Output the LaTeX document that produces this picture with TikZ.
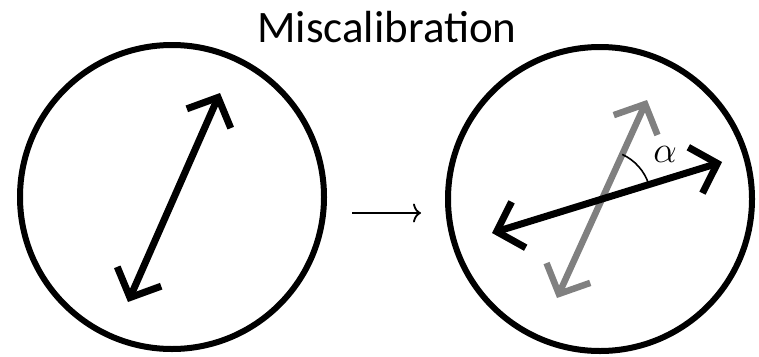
\documentclass[tikz,border=0pt]{standalone}
\usepackage{fontspec}
\setmainfont{Carlito}
\usetikzlibrary{arrows.meta}
\definecolor{midgray}{RGB}{128,128,128}
\begin{document}
\begin{tikzpicture}[x=1pt,y=-1pt,
  ring/.style={draw=black, line width=6pt, circle, minimum size=304pt, inner sep=0pt},
  dblarrow/.style={line width=7pt, {Straight Barb[length=23pt,width=48pt]}-{Straight Barb[length=23pt,width=48pt]}},
  grayarrow/.style={dblarrow, line width=6.5pt, draw=midgray},
  thinarrow/.style={line width=1.8pt, -{Computer Modern Rightarrow[length=8pt,width=19pt]}},
  anglearc/.style={line width=1.6pt}
]
\useasboundingbox (0,0) rectangle (759,356);
\node[anchor=base, font=\fontsize{45}{54}\selectfont, inner sep=0pt] (title) at (387,42) {Miscalibration};
\node[ring] (L) at (172,197) {};
\node[ring] (R) at (600,199) {};
% left arrow
\coordinate (l1) at (128,302);
\coordinate (l2) at (220,93);
\draw[dblarrow] (l1) -- (l2);
% middle arrow
\coordinate (m1) at (352,213);
\coordinate (m2) at (421,213);
\draw[thinarrow] (m1) -- (m2);
% right: gray (original) and black (rotated)
\coordinate (g1) at (557,298);
\coordinate (g2) at (647,100);
\coordinate (b1) at (492,233);
\coordinate (b2) at (722,162);
\draw[grayarrow] (g1) -- (g2);
\draw[dblarrow] (b1) -- (b2);
\coordinate (X) at (intersection of g1--g2 and b1--b2);
\draw[anglearc] ([shift={(17.1:49pt)}]X) arc[start angle=17.1, end angle=65.6, radius=49pt];
\node[font=\fontsize{24}{28}\selectfont, inner sep=0pt] (alpha) at (665,154) {\scalebox{1.5}{$\alpha$}};
\end{tikzpicture}
\end{document}
